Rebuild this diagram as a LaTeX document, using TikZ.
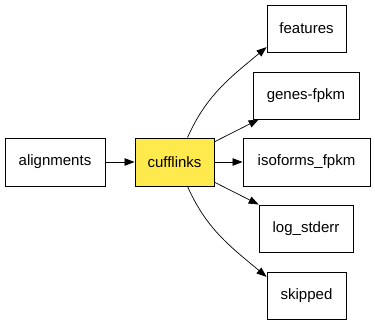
\documentclass[tikz,border=0pt]{standalone}
\usepackage{fontspec}
\setmainfont{Liberation Sans}
\usetikzlibrary{arrows.meta}
\tikzset{box/.style={draw,line width=0.9pt,inner sep=0pt,font=\fontsize{15}{18}\selectfont}}
\tikzset{link/.style={line width=0.7pt,-{Triangle[length=10pt,width=7.5pt]}}}
\definecolor{tool}{RGB}{255,234,78}

\begin{document}
\begin{tikzpicture}[x=1pt,y=1pt]
	    \useasboundingbox (0,0) rectangle (375,325);
	    % input and tool
	    \node[box,minimum width=100,minimum height=48] (alignments) at (55,163) {alignments};
	    \node[box,fill=tool,minimum width=79,minimum height=48] (cufflinks) at (174.5,163) {cufflinks};
	    % outputs
	    \node[box,minimum width=79,minimum height=47] (features) at (306.5,296.5) {features};
	    \node[box,minimum width=106,minimum height=47] (genes) at (306,229.5) {genes-fpkm};
	    \node[box,minimum width=127,minimum height=48] (isoforms) at (306.5,163) {isoforms\_fpkm};
	    \node[box,minimum width=94,minimum height=47] (log) at (306,96.5) {log\_stderr};
	    \node[box,minimum width=79,minimum height=47] (skipped) at (306.5,29.5) {skipped};
	    \draw[link] (alignments) -- (cufflinks);
	    \draw[link] (cufflinks.62) to[out=66,in=220] (features.205);
	    \draw[link] (cufflinks) -- (genes);
	    \draw[link] (cufflinks) -- (isoforms);
	    \draw[link] (cufflinks) -- (log);
	    \draw[link] (cufflinks.-62) to[out=-66,in=140] (skipped.155);
        \end{tikzpicture}
\end{document}
